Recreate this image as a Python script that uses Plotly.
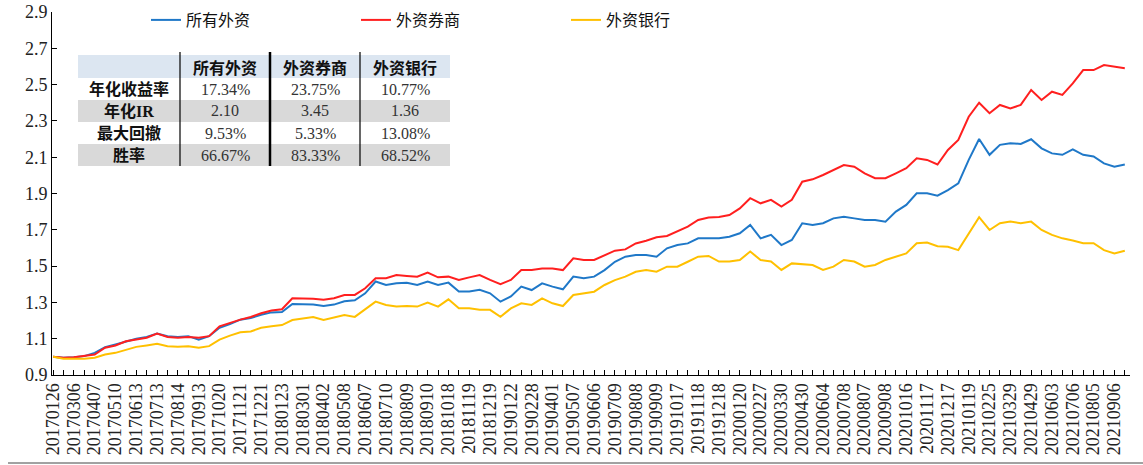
import plotly.graph_objects as go

# ---------------- data ----------------
dates = [
    "20170126", "20170215", "20170306", "20170321", "20170407", "20170424", "20170510", "20170526",
    "20170613", "20170628", "20170713", "20170731", "20170814", "20170829", "20170913", "20170927",
    "20171020", "20171106", "20171121", "20171206", "20171221", "20180108", "20180123", "20180207",
    "20180301", "20180316", "20180402", "20180419", "20180508", "20180523", "20180607", "20180622",
    "20180710", "20180725", "20180809", "20180824", "20180910", "20180926", "20181018", "20181102",
    "20181119", "20181204", "20181219", "20190107", "20190122", "20190213", "20190228", "20190315",
    "20190401", "20190418", "20190507", "20190522", "20190606", "20190624", "20190709", "20190724",
    "20190808", "20190823", "20190909", "20190925", "20191017", "20191101", "20191118", "20191203",
    "20191218", "20200103", "20200120", "20200212", "20200227", "20200313", "20200330", "20200416",
    "20200430", "20200520", "20200604", "20200619", "20200708", "20200723", "20200807", "20200824",
    "20200908", "20200923", "20201016", "20201102", "20201117", "20201202", "20201217", "20210104",
    "20210119", "20210203", "20210225", "20210312", "20210329", "20210413", "20210429", "20210518",
    "20210603", "20210621", "20210706", "20210721", "20210805", "20210820", "20210906", "20210917",
]

tick_labels = [
    "20170126", "20170306", "20170407", "20170510", "20170613", "20170713", "20170814", "20170913",
    "20171020", "20171121", "20171221", "20180123", "20180301", "20180402", "20180508", "20180607",
    "20180710", "20180809", "20180910", "20181018", "20181119", "20181219", "20190122", "20190228",
    "20190401", "20190507", "20190606", "20190709", "20190808", "20190909", "20191017", "20191118",
    "20191218", "20200120", "20200227", "20200330", "20200430", "20200604", "20200708", "20200807",
    "20200908", "20201016", "20201117", "20201217", "20210119", "20210225", "20210329", "20210429",
    "20210603", "20210706", "20210805", "20210906",
]

all_foreign = [
    1.000, 0.995, 0.998, 1.004, 1.022, 1.053, 1.068, 1.086, 1.100, 1.110, 1.128, 1.114,
    1.110, 1.114, 1.095, 1.114, 1.160, 1.180, 1.205, 1.214, 1.232, 1.245, 1.247, 1.291,
    1.288, 1.288, 1.280, 1.288, 1.306, 1.312, 1.350, 1.415, 1.396, 1.405, 1.408, 1.396,
    1.415, 1.396, 1.409, 1.360, 1.360, 1.369, 1.350, 1.304, 1.333, 1.387, 1.368, 1.405,
    1.387, 1.372, 1.442, 1.433, 1.442, 1.478, 1.524, 1.552, 1.561, 1.561, 1.552, 1.598,
    1.616, 1.625, 1.653, 1.653, 1.653, 1.662, 1.681, 1.727, 1.653, 1.672, 1.616, 1.644,
    1.736, 1.727, 1.736, 1.763, 1.772, 1.763, 1.754, 1.754, 1.745, 1.800, 1.837, 1.901,
    1.901, 1.888, 1.919, 1.956, 2.085, 2.200, 2.113, 2.168, 2.177, 2.173, 2.199, 2.149,
    2.121, 2.113, 2.143, 2.113, 2.104, 2.066, 2.048, 2.060,
]

foreign_broker = [
    1.000, 0.995, 0.998, 1.004, 1.013, 1.050, 1.063, 1.086, 1.095, 1.105, 1.128, 1.110,
    1.105, 1.110, 1.105, 1.114, 1.168, 1.187, 1.205, 1.220, 1.240, 1.255, 1.262, 1.323,
    1.323, 1.320, 1.314, 1.323, 1.341, 1.341, 1.378, 1.433, 1.433, 1.451, 1.446, 1.442,
    1.464, 1.438, 1.442, 1.424, 1.438, 1.451, 1.424, 1.401, 1.424, 1.478, 1.478, 1.487,
    1.487, 1.478, 1.543, 1.534, 1.534, 1.561, 1.585, 1.592, 1.625, 1.640, 1.659, 1.666,
    1.690, 1.717, 1.754, 1.768, 1.770, 1.781, 1.818, 1.874, 1.846, 1.865, 1.828, 1.865,
    1.965, 1.978, 2.002, 2.030, 2.057, 2.048, 2.011, 1.984, 1.984, 2.011, 2.039, 2.094,
    2.085, 2.060, 2.140, 2.195, 2.323, 2.400, 2.342, 2.388, 2.369, 2.388, 2.470, 2.415,
    2.461, 2.443, 2.507, 2.580, 2.580, 2.608, 2.599, 2.590,
]

foreign_bank = [
    1.000, 0.990, 0.990, 0.990, 0.995, 1.013, 1.022, 1.037, 1.055, 1.063, 1.072, 1.059,
    1.055, 1.059, 1.050, 1.059, 1.095, 1.117, 1.135, 1.140, 1.160, 1.168, 1.175, 1.203,
    1.212, 1.220, 1.203, 1.218, 1.230, 1.220, 1.260, 1.304, 1.286, 1.277, 1.280, 1.277,
    1.299, 1.277, 1.317, 1.268, 1.268, 1.259, 1.259, 1.221, 1.267, 1.295, 1.286, 1.322,
    1.295, 1.280, 1.341, 1.350, 1.359, 1.396, 1.423, 1.442, 1.469, 1.478, 1.469, 1.497,
    1.497, 1.524, 1.552, 1.556, 1.525, 1.525, 1.534, 1.580, 1.534, 1.525, 1.479, 1.515,
    1.511, 1.506, 1.479, 1.497, 1.534, 1.525, 1.497, 1.506, 1.534, 1.552, 1.570, 1.626,
    1.630, 1.610, 1.607, 1.588, 1.681, 1.770, 1.699, 1.736, 1.745, 1.736, 1.745, 1.699,
    1.672, 1.653, 1.641, 1.626, 1.626, 1.588, 1.570, 1.585,
]

series_names = ["所有外资", "外资券商", "外资银行"]
series_colors = ["#1F78C8", "#FF1F1F", "#FFC000"]

table_header = ["", "所有外资", "外资券商", "外资银行"]
table_rows = ["年化收益率", "年化IR", "最大回撤", "胜率"]
stats_all = ["17.34%", "2.10", "9.53%", "66.67%"]
stats_broker = ["23.75%", "3.45", "5.33%", "83.33%"]
stats_bank = ["10.77%", "1.36", "13.08%", "68.52%"]

# ---------------- layout geometry (pixels) ----------------
W, H = 1143, 465
L, R, T, B = 52, 13, 12, 90
PW, PH = W - L - R, H - T - B


def px(x):
    return (x - L) / PW


def py(y):
    return (H - B - y) / PH


SERIF = "Liberation Serif, Noto Sans CJK SC"
CJK = "Noto Sans CJK SC"

fig = go.Figure()
for name, vals, col in zip(series_names, [all_foreign, foreign_broker, foreign_bank], series_colors):
    fig.add_trace(go.Scatter(x=dates, y=vals, mode="lines", name=name,
                             line=dict(color=col, width=2)))

ticktext = [d if d in tick_labels else "" for d in dates]

fig.update_layout(
    width=W, height=H,
    margin=dict(l=L, r=R, t=T, b=B, autoexpand=False),
    paper_bgcolor="white", plot_bgcolor="white",
    showlegend=True,
    legend=dict(orientation="h", x=px(146), y=py(20), xanchor="left", yanchor="middle",
                entrywidth=165, entrywidthmode="pixels", itemwidth=30,
                font=dict(family=CJK, size=16, color="#111"), bgcolor="rgba(0,0,0,0)"),
    xaxis=dict(type="category", categoryorder="array", categoryarray=dates,
               range=[-0.1, len(dates) - 0.5], automargin=False,
               tickmode="array", tickvals=dates, ticktext=ticktext, tickangle=-90,
               ticks="inside", ticklen=5, tickcolor="black", tickwidth=1,
               showline=True, linecolor="black", linewidth=1, showgrid=False,
               zeroline=False,
               tickfont=dict(family=SERIF, size=18, color="#222")),
    yaxis=dict(range=[0.9, 2.9], dtick=0.2, tick0=0.9, tickformat=".1f", automargin=False,
               ticks="inside", ticklen=5, tickcolor="black",
               showline=True, linecolor="black", linewidth=1, showgrid=False,
               zeroline=False,
               tickfont=dict(family=SERIF, size=18, color="#222")),
)

# ---------------- statistics table ----------------
col_edges = [78, 180, 270, 360, 450]
row_edges = [55, 78, 100, 122, 144, 166]
row_fills = ["#DCE6F1", "white", "#D9D9D9", "white", "#D9D9D9"]
shapes = []
for r, fill in enumerate(row_fills):
    shapes.append(dict(type="rect", xref="paper", yref="paper",
                       x0=px(col_edges[0]), x1=px(col_edges[-1]),
                       y0=py(row_edges[r + 1]), y1=py(row_edges[r]),
                       fillcolor=fill, line=dict(width=0), layer="above"))
for xe, lw in zip(col_edges[1:4], [1.2, 2.5, 1.2]):
    shapes.append(dict(type="line", xref="paper", yref="paper",
                       x0=px(xe), x1=px(xe), y0=py(52), y1=py(166),
                       line=dict(color="black", width=lw), layer="above"))
# outer bottom border of the chart
shapes.append(dict(type="line", xref="paper", yref="paper",
                   x0=px(8), x1=px(1143), y0=py(463), y1=py(463),
                   line=dict(color="#444", width=1)))

annotations = []
centers_x = [(a + b) / 2 for a, b in zip(col_edges[:-1], col_edges[1:])]
centers_y = [(a + b) / 2 for a, b in zip(row_edges[:-1], row_edges[1:])]


def cell(x, y, text, font):
    return dict(xref="paper", yref="paper", x=px(x), y=py(y), xanchor="center", yanchor="middle",
                text=text, showarrow=False, font=font)


for c, txt in enumerate(table_header):
    if txt:
        annotations.append(cell(centers_x[c], centers_y[0], "<b>%s</b>" % txt,
                                dict(family=CJK, size=16, color="#111")))
columns = [stats_all, stats_broker, stats_bank]
for r, rowname in enumerate(table_rows):
    annotations.append(cell(centers_x[0], centers_y[r + 1], "<b>%s</b>" % rowname,
                            dict(family=SERIF, size=16, color="#111")))
    for c, colvals in enumerate(columns):
        annotations.append(cell(centers_x[c + 1], centers_y[r + 1], colvals[r],
                                dict(family=SERIF, size=16, color="#333")))

fig.update_layout(shapes=shapes, annotations=annotations)
fig.write_html("out.html", config={"displayModeBar": False},
               post_script="document.body.style.margin='0px';")
